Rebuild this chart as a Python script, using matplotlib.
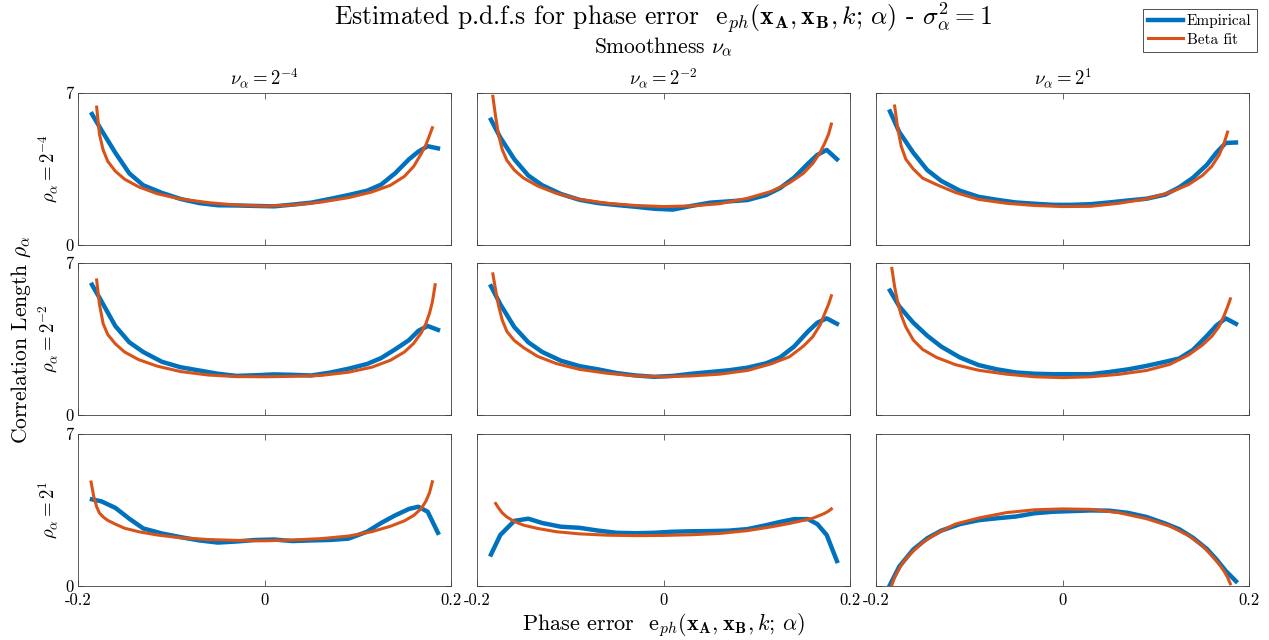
import numpy as np
import matplotlib
matplotlib.use("Agg")
import matplotlib.pyplot as plt

plt.rcParams.update({
    "font.family": "serif",
    "font.serif": ["cmr10", "DejaVu Serif"],
    "mathtext.fontset": "cm",
    "axes.formatter.use_mathtext": True,
    "axes.unicode_minus": False,
})

BLUE, ORANGE = "#0072BD", "#D95319"

col_titles = [r"$\nu_\alpha = 2^{-4}$", r"$\nu_\alpha = 2^{-2}$", r"$\nu_\alpha = 2^{1}$"]
row_titles = [r"$\rho_\alpha = 2^{-4}$", r"$\rho_\alpha = 2^{-2}$", r"$\rho_\alpha = 2^{1}$"]

# empirical pdf sample points (shared x)
x_emp = [-0.185, -0.175, -0.16, -0.145, -0.13, -0.11, -0.09, -0.07, -0.05, -0.03, -0.01,
         0.01, 0.03, 0.05, 0.07, 0.09, 0.11, 0.125, 0.14, 0.155, 0.165, 0.175, 0.186]

emp_11 = [6.03, 5.3, 4.25, 3.3, 2.75, 2.4, 2.12, 1.93, 1.83, 1.82, 1.8,
          1.78, 1.86, 1.95, 2.12, 2.3, 2.5, 2.78, 3.3, 3.95, 4.3, 4.55, 4.45]
emp_12 = [5.77, 4.95, 3.95, 3.2, 2.75, 2.35, 2.08, 1.93, 1.84, 1.76, 1.67,
          1.63, 1.8, 1.95, 2.01, 2.07, 2.3, 2.62, 3.1, 3.75, 4.15, 4.38, 3.95]
emp_13 = [6.15, 5.2, 4.25, 3.45, 2.95, 2.5, 2.22, 2.08, 1.96, 1.9, 1.85,
          1.85, 1.88, 1.96, 2.05, 2.13, 2.32, 2.65, 3.1, 3.7, 4.25, 4.7, 4.72]
emp_21 = [6.0, 5.25, 4.1, 3.35, 2.9, 2.45, 2.2, 2.05, 1.9, 1.8, 1.83,
          1.87, 1.85, 1.82, 1.95, 2.13, 2.35, 2.62, 3.02, 3.45, 3.88, 4.1, 3.92]
emp_22 = [5.93, 5.1, 4.05, 3.35, 2.9, 2.5, 2.25, 2.1, 1.93, 1.82, 1.76,
          1.8, 1.9, 1.98, 2.06, 2.18, 2.38, 2.65, 3.15, 3.85, 4.25, 4.45, 4.2]
emp_23 = [5.73, 5.0, 4.25, 3.65, 3.15, 2.65, 2.3, 2.1, 1.96, 1.9, 1.88,
          1.88, 1.88, 1.98, 2.1, 2.26, 2.45, 2.6, 3.0, 3.65, 4.12, 4.45, 4.2]
emp_31 = [3.99, 3.9, 3.6, 3.1, 2.65, 2.42, 2.25, 2.1, 2.0, 2.05, 2.12,
          2.14, 2.07, 2.1, 2.12, 2.18, 2.5, 2.9, 3.25, 3.55, 3.65, 3.42, 2.45]
emp_32 = [1.45, 2.35, 3.0, 3.1, 2.9, 2.73, 2.68, 2.55, 2.45, 2.43, 2.45,
          2.5, 2.52, 2.53, 2.55, 2.62, 2.8, 2.95, 3.08, 3.08, 2.85, 2.35, 1.15]
emp_33 = [0.05, 0.9, 1.68, 2.2, 2.55, 2.85, 3.03, 3.12, 3.2, 3.35, 3.42,
          3.45, 3.48, 3.47, 3.37, 3.18, 2.88, 2.62, 2.22, 1.7, 1.23, 0.7, 0.22]

# beta fit sample points (shared x, nan where the curve is not drawn)
x_fit = [-0.186, -0.183, -0.18, -0.177, -0.173, -0.168, -0.16, -0.15, -0.135, -0.115, -0.09,
         -0.06, -0.03, 0.0, 0.03, 0.06, 0.09, 0.115, 0.135, 0.15, 0.16, 0.168, 0.173,
         0.177, 0.18, 0.183, 0.186]
nan = np.nan
fit_11 = [nan, nan, 6.35, 5.1, 4.37, 3.85, 3.4, 3.03, 2.68, 2.36, 2.12, 1.95, 1.84, 1.79,
          1.84, 1.97, 2.18, 2.44, 2.75, 3.16, 3.62, 4.2, 4.6, 5.05, 5.4, nan, nan]
fit_12 = [nan, 6.85, 5.9, 5.1, 4.4, 3.9, 3.45, 3.08, 2.72, 2.38, 2.1, 1.92, 1.82, 1.77,
          1.8, 1.9, 2.15, 2.46, 2.86, 3.3, 3.75, 4.26, 4.7, 5.1, 5.57, nan, nan]
fit_13 = [nan, nan, 6.4, 5.45, 4.55, 3.95, 3.5, 3.08, 2.78, 2.42, 2.1, 1.92, 1.82, 1.77,
          1.78, 1.92, 2.12, 2.42, 2.78, 3.2, 3.62, 4.15, 4.65, 5.2, nan, nan, nan]
fit_21 = [nan, nan, 6.22, 5.1, 4.2, 3.7, 3.28, 2.9, 2.55, 2.25, 2.0, 1.84, 1.77, 1.76,
          1.78, 1.82, 1.97, 2.2, 2.52, 2.9, 3.3, 3.78, 4.2, 4.69, 5.2, 6.0, nan]
fit_22 = [nan, 6.5, 5.75, 5.05, 4.38, 3.85, 3.43, 3.1, 2.7, 2.37, 2.1, 1.92, 1.8, 1.76,
          1.8, 1.88, 2.05, 2.35, 2.68, 3.17, 3.6, 4.15, 4.69, 5.1, 5.49, nan, nan]
fit_23 = [nan, 6.75, 5.9, 5.25, 4.6, 4.05, 3.45, 3.02, 2.65, 2.32, 2.06, 1.88, 1.76, 1.72,
          1.76, 1.87, 2.05, 2.33, 2.76, 3.22, 3.62, 4.08, 4.55, 4.98, 5.35, nan, nan]
fit_31 = [4.79, 4.1, 3.65, 3.36, 3.18, 3.02, 2.85, 2.66, 2.5, 2.35, 2.22, 2.14, 2.1, 2.08,
          2.12, 2.18, 2.3, 2.5, 2.75, 3.0, 3.25, 3.56, 3.9, 4.3, 4.8, nan, nan]
fit_32 = [nan, nan, 3.8, 3.6, 3.37, 3.18, 2.97, 2.8, 2.65, 2.5, 2.4, 2.34, 2.32, 2.33,
          2.36, 2.42, 2.55, 2.72, 2.88, 3.02, 3.12, 3.26, 3.35, 3.45, 3.55, nan, nan]
fit_33 = [nan, 0.05, 0.4, 0.65, 0.95, 1.25, 1.61, 2.0, 2.42, 2.85, 3.13, 3.38, 3.51, 3.55,
          3.53, 3.38, 3.1, 2.76, 2.33, 1.85, 1.4, 1.0, 0.7, 0.4, 0.1, nan, nan]

emp = [[emp_11, emp_12, emp_13], [emp_21, emp_22, emp_23], [emp_31, emp_32, emp_33]]
fit = [[fit_11, fit_12, fit_13], [fit_21, fit_22, fit_23], [fit_31, fit_32, fit_33]]

W, H = 1269, 640
fig = plt.figure(figsize=(W / 100, H / 100), dpi=100)

lefts = [78, 477, 876]
tops = [93, 263, 434]
aw, ah = 373, 152
XC = (lefts[0] + lefts[2] + aw) / 2 / W   # centre of the axes block

for r in range(3):
    for c in range(3):
        ax = fig.add_axes([lefts[c] / W, 1 - (tops[r] + ah) / H, aw / W, ah / H])
        ax.plot(x_emp, emp[r][c], color=BLUE, lw=3.2, label="Empirical")
        ax.plot(x_fit, fit[r][c], color=ORANGE, lw=2.2, label="Beta fit")
        ax.set_xlim(-0.2, 0.2)
        ax.set_ylim(0, 7)
        ax.set_xticks([-0.2, 0, 0.2])
        ax.set_yticks([0, 7])
        ax.tick_params(direction="in", top=True, right=True, length=4, width=0.6,
                       color="0.3", labelsize=12)
        ax.tick_params(axis="x", pad=5)
        ax.tick_params(axis="y", pad=3)
        for s in ax.spines.values():
            s.set_color("0.25")
            s.set_linewidth(0.6)
        if r == 2:
            ax.set_xticklabels(["-0.2", "0", "0.2"])
        else:
            ax.set_xticklabels([])
        if c == 0:
            ax.set_yticklabels(["0", "7"])
            ax.set_ylabel(row_titles[r], fontsize=13.5, labelpad=4)
        else:
            ax.set_yticklabels([])
        if r == 0:
            ax.set_title(col_titles[c], fontsize=13.5, pad=6)
        if r == 0 and c == 0:
            handles, labels = ax.get_legend_handles_labels()

fig.text(XC, 0.972,
         r"Estimated p.d.f.s for phase error  $\mathrm{e}_{ph}(\mathbf{x}_{\mathbf{A}}, \mathbf{x}_{\mathbf{B}}, k;\, \alpha)$ - $\sigma^2_\alpha = 1$",
         ha="center", va="center", fontsize=18.5)
fig.text(XC, 0.926, r"Smoothness $\nu_\alpha$", ha="center", va="center", fontsize=15.5)
fig.text(XC, 0.023,
         r"Phase error  $\mathrm{e}_{ph}(\mathbf{x}_{\mathbf{A}}, \mathbf{x}_{\mathbf{B}}, k;\, \alpha)$",
         ha="center", va="center", fontsize=16)
fig.text(0.017, 0.47, r"Correlation Length $\rho_\alpha$", ha="center", va="center",
         rotation=90, fontsize=15.5)

leg = fig.legend(handles, labels, loc="upper right", bbox_to_anchor=(1257 / W, 1 - 9 / H),
                 fontsize=11, frameon=True, fancybox=False, edgecolor="black",
                 handlelength=2.3, handletextpad=0.25, borderpad=0.35, labelspacing=0.3,
                 borderaxespad=0)
leg.get_frame().set_linewidth(0.6)

fig.savefig("out.png", dpi=100, facecolor="white")
